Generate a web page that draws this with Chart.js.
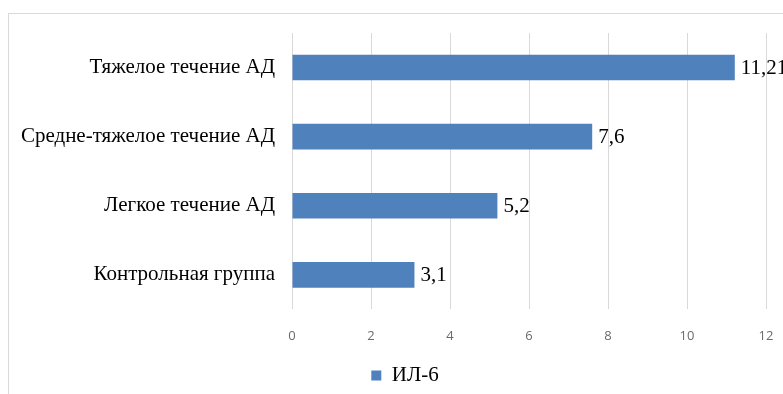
<!DOCTYPE html>
<html>
<head>
<meta charset="utf-8">
<script src="https://cdn.jsdelivr.net/npm/chart.js@4/dist/chart.umd.min.js"></script>
<style>
  html, body { margin: 0; padding: 0; background: #fff; }
  #wrap { width: 783px; height: 394px; overflow: hidden; }
</style>
</head>
<body>
<div id="wrap"><canvas id="c" width="783" height="394"></canvas></div>
<script>
// Уровень ИЛ-6 по группам
const categories = [
  'Тяжелое течение АД',
  'Средне-тяжелое течение АД',
  'Легкое течение АД',
  'Контрольная группа'
];
const seriesName = 'ИЛ-6';
const il6Values = [11.21, 7.6, 5.2, 3.1];
const xTicks = [0, 2, 4, 6, 8, 10, 12];

const serif = '"Liberation Serif", "Times New Roman", serif';
const sans = '"Open Sans", "Liberation Sans", sans-serif';

// outer frame of the chart area
const framePlugin = {
  id: 'frame',
  beforeDraw(chart) {
    const ctx = chart.ctx;
    ctx.save();
    ctx.fillStyle = '#ffffff';
    ctx.fillRect(0, 0, chart.width, chart.height);
    ctx.strokeStyle = '#d9d9d9';
    ctx.lineWidth = 1;
    ctx.strokeRect(8.5, 13.5, 900, 600);
    ctx.restore();
  }
};

// the frame runs past the right edge, so centre the legend on the frame
const legendShift = {
  id: 'legendShift',
  afterLayout(chart) {
    const lg = chart.legend;
    if (lg) { lg.left += 22; lg.right += 22; }
  }
};

// value labels to the right of each bar
const valueLabels = {
  id: 'valueLabels',
  afterDatasetsDraw(chart) {
    const ctx = chart.ctx;
    const meta = chart.getDatasetMeta(0);
    const data = chart.data.datasets[0].data;
    ctx.save();
    ctx.font = '21px ' + serif;
    ctx.fillStyle = '#000000';
    ctx.textAlign = 'left';
    ctx.textBaseline = 'middle';
    meta.data.forEach((bar, i) => {
      const txt = String(data[i]).replace('.', ',');
      ctx.fillText(txt, bar.x + 6, bar.y + 1);
    });
    ctx.restore();
  }
};

new Chart(document.getElementById('c'), {
  type: 'bar',
  data: {
    labels: categories,
    datasets: [{
      label: seriesName,
      data: il6Values,
      backgroundColor: '#4f81bd',
      borderWidth: 0,
      categoryPercentage: 1.0,
      barPercentage: 0.37
    }]
  },
  options: {
    indexAxis: 'y',
    responsive: false,
    animation: false,
    devicePixelRatio: 1,
    layout: { padding: { top: 33, right: 17, left: 0, bottom: -2 } },
    scales: {
      x: {
        min: 0,
        max: 12,
        afterBuildTicks(scale) {
          scale.ticks = xTicks.map(v => ({ value: v }));
        },
        afterFit(scale) {
          scale.height = 51.6;
          scale.paddingLeft = 8;
          scale.paddingRight = 8;
        },
        grid: { color: '#d9d9d9', lineWidth: 1, drawTicks: false },
        border: { display: false },
        ticks: {
          padding: 19,
          color: '#6b6b6b',
          font: { family: sans, size: 13 }
        }
      },
      y: {
        afterFit(scale) { scale.width = 292; },
        grid: { display: false, drawTicks: false },
        border: { display: false },
        ticks: {
          padding: 17,
          color: '#000000',
          font: { family: serif, size: 21 }
        }
      }
    },
    plugins: {
      legend: {
        position: 'bottom',
        labels: {
          boxWidth: 10,
          boxHeight: 10,
          color: '#000000',
          padding: 4,
          font: { family: serif, size: 21 }
        }
      },
      tooltip: { enabled: false }
    }
  },
  plugins: [framePlugin, legendShift, valueLabels]
});
</script>
</body>
</html>
